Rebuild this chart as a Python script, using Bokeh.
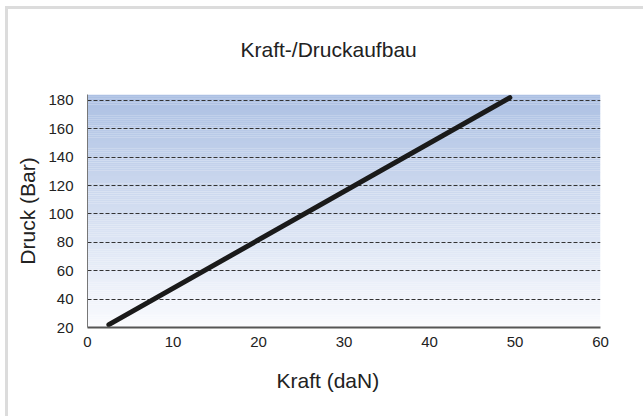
import numpy as np
from bokeh.plotting import figure
from bokeh.models import Range1d, FixedTicker, Title, ColumnDataSource
from bokeh.embed import file_html
from bokeh.resources import INLINE

# Data
kraft = [2.5, 49.4]          # daN
druck = [22.0, 182.0]        # Bar
x_ticks = [0, 10, 20, 30, 40, 50, 60]
y_ticks = [20, 40, 60, 80, 100, 120, 140, 160, 180]
title_text = "Kraft-/Druckaufbau"
x_label = "Kraft (daN)"
y_label = "Druck (Bar)"

X_MIN, X_MAX = 0, 60
Y_MIN, Y_MAX = 20, 184.2

FONT = "Liberation Sans"
TXT = "#222222"

p = figure(width=643, height=416, output_backend="svg", toolbar_location=None,
           x_range=Range1d(X_MIN, X_MAX), y_range=Range1d(Y_MIN, Y_MAX),
           min_border_left=87, min_border_right=43, min_border_top=94, min_border_bottom=89)
p.outline_line_color = None
p.background_fill_color = "white"
p.border_fill_color = None
# outer panel frame: left and top edges drawn as background behind the transparent border area
p.styles = {
    "overflow": "hidden",
    "background": ("linear-gradient(#dcdcdc, #dcdcdc) 5px 6px / 3px 420px no-repeat, "
                   "linear-gradient(#dcdcdc, #dcdcdc) 5px 6px / 650px 3px no-repeat, white"),
}

# gradient background (plot area)
n = 120
edges = np.linspace(Y_MIN, Y_MAX, n + 1)
top_c = np.array([172, 192, 227])
bot_c = np.array([250, 251, 254])
cols = []
for i in range(n):
    t = (edges[i] + edges[i + 1]) / 2
    f = (t - Y_MIN) / (Y_MAX - Y_MIN)
    c = bot_c + (top_c - bot_c) * f
    cols.append("#%02x%02x%02x" % tuple(int(round(v)) for v in c))
grad = ColumnDataSource(dict(bottom=edges[:-1], top=edges[1:] + 0.05, color=cols))
r = p.quad(left=X_MIN, right=X_MAX, bottom="bottom", top="top", fill_color="color",
           line_color=None, source=grad)
r.level = "image"

# grid
p.xgrid.grid_line_color = None
p.ygrid.grid_line_color = "#333333"
p.ygrid.grid_line_dash = "4 2"
p.ygrid.grid_line_width = 1
p.ygrid.level = "underlay"

# data line
p.line(kraft, druck, line_color="#1a1a1a", line_width=5, line_cap="round")

# axes
p.xaxis.ticker = FixedTicker(ticks=x_ticks)
p.yaxis.ticker = FixedTicker(ticks=y_ticks)
p.ygrid.ticker = FixedTicker(ticks=y_ticks)
for ax in (p.xaxis[0], p.yaxis[0]):
    ax.major_tick_line_color = None
    ax.minor_tick_line_color = None
    ax.major_label_text_font = FONT
    ax.major_label_text_font_size = "15px"
    ax.major_label_text_color = TXT
p.xaxis.axis_line_color = "#555555"
p.xaxis.axis_line_width = 2
p.xaxis.major_label_standoff = 3
p.yaxis.axis_line_color = "#777777"
p.yaxis.axis_line_width = 1
p.yaxis.major_label_standoff = 8
p.yaxis.axis_label = y_label
p.yaxis.axis_label_text_font = FONT
p.yaxis.axis_label_text_font_size = "21px"
p.yaxis.axis_label_text_font_style = "normal"
p.yaxis.axis_label_text_color = TXT
p.yaxis.axis_label_standoff = 6

# title
p.title = Title(text=title_text, align="left", offset=153, text_font=FONT,
                text_font_size="21px", text_font_style="normal", text_color=TXT,
                standoff=68)

# x label as title below
p.add_layout(Title(text=x_label, align="left", offset=189, text_font=FONT,
                   text_font_size="21px", text_font_style="normal", text_color=TXT,
                   standoff=34), "below")

open("out.html", "w").write(file_html(p, INLINE))
